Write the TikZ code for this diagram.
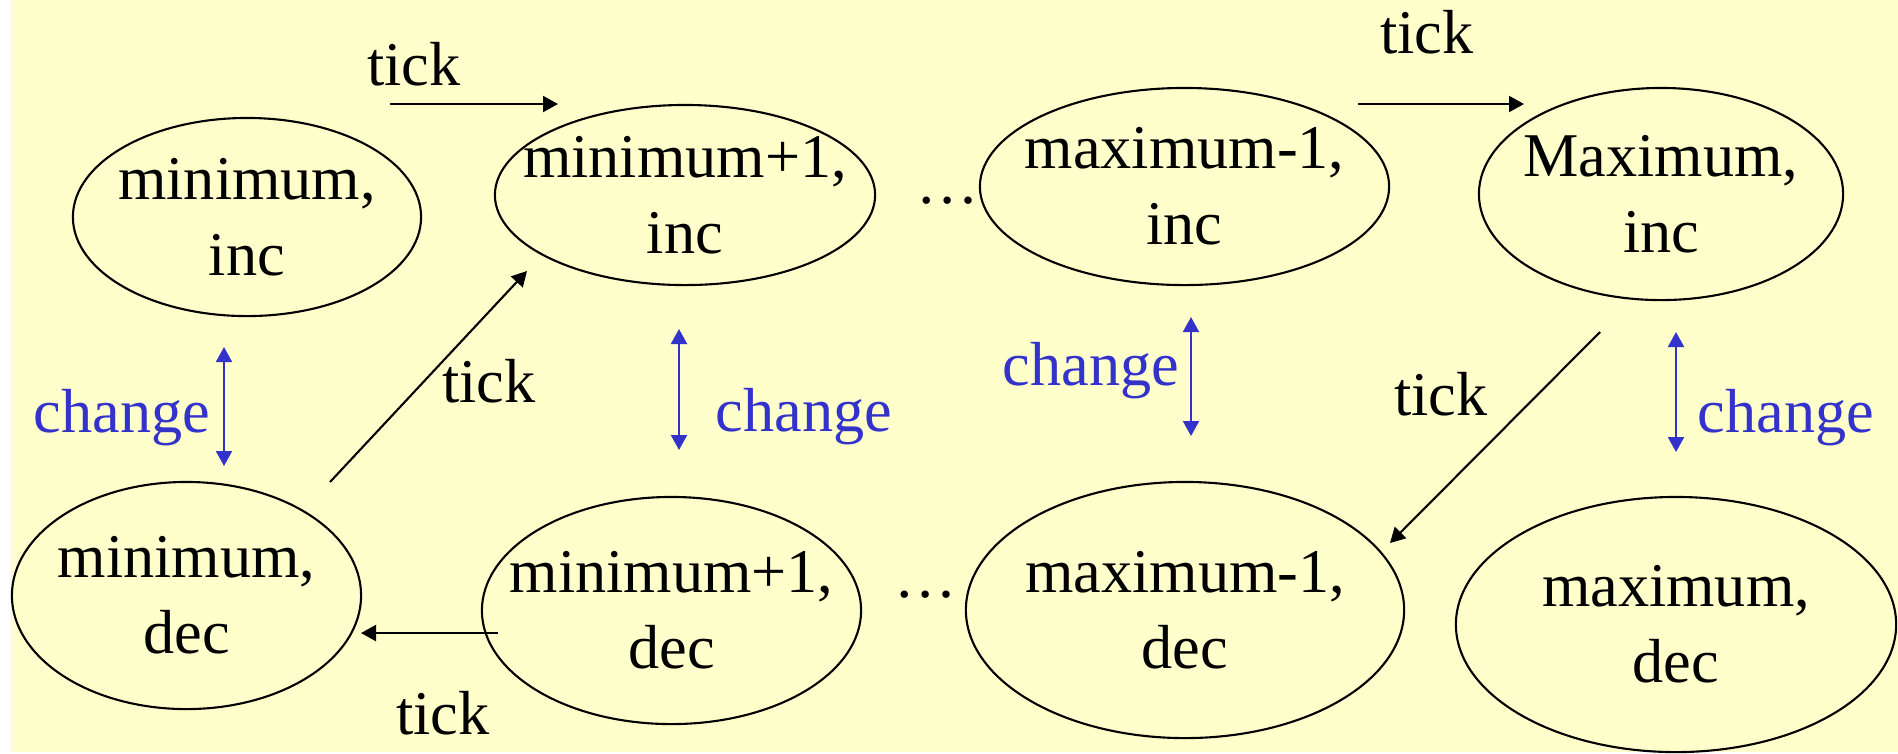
\documentclass[tikz,border=0pt]{standalone}
\usepackage{fontspec}
\setmainfont{Liberation Serif}
\usetikzlibrary{arrows.meta,shapes.geometric}

\definecolor{paper}{RGB}{255,255,204}
\definecolor{chg}{RGB}{51,51,204}

\begin{document}
\begin{tikzpicture}[
    x=0.01cm, y=-0.01cm,
    state/.style={draw=black, line width=0.6pt, ellipse, inner sep=0pt},
    txt/.style={inner sep=0pt, align=center, font=\fontsize{17.7pt}{21.6pt}\selectfont},
    lbl/.style={inner sep=0pt, anchor=base, font=\fontsize{17.7pt}{21.6pt}\selectfont},
    clbl/.style={lbl, text=chg},
    tickarrow/.style={draw=black, line width=0.6pt, -{Triangle[length=1.5mm,width=1.6mm]}},
    chgarrow/.style={draw=chg, line width=0.6pt, {Triangle[length=1.5mm,width=1.6mm]}-{Triangle[length=1.5mm,width=1.6mm]}}
  ]
  % page and background
  \useasboundingbox (0,0) rectangle (1898,753);
  \fill[white] (0,0) rectangle (1898,753);
  \fill[paper] (11,0) rectangle (1898,752);

  % states: counting up
  \node[state, minimum width=3.48cm, minimum height=1.98cm] (mininc)  at (247,217)   {};
  \node[state, minimum width=3.80cm, minimum height=1.80cm] (min1inc) at (685,195)   {};
  \node[state, minimum width=4.09cm, minimum height=1.97cm] (max1inc) at (1184.5,186.5) {};
  \node[state, minimum width=3.64cm, minimum height=2.12cm] (maxinc)  at (1661,194)  {};
  % states: counting down
  \node[state, minimum width=3.49cm, minimum height=2.27cm] (mindec)  at (186.5,595.5) {};
  \node[state, minimum width=3.79cm, minimum height=2.27cm] (min1dec) at (671.5,610.5) {};
  \node[state, minimum width=4.38cm, minimum height=2.56cm] (max1dec) at (1185,610)  {};
  \node[state, minimum width=4.40cm, minimum height=2.55cm] (maxdec)  at (1676,624.5) {};

  % state names
  \node[txt] (mininc-t)  at (mininc)  {minimum,\\inc};
  \node[txt] (min1inc-t) at (min1inc) {minimum+1,\\inc};
  \node[txt] (max1inc-t) at (max1inc) {maximum-1,\\inc};
  \node[txt] (maxinc-t)  at (maxinc)  {Maximum,\\inc};
  \node[txt] (mindec-t)  at (mindec)  {minimum,\\dec};
  \node[txt] (min1dec-t) at (min1dec) {minimum+1,\\dec};
  \node[txt] (max1dec-t) at (max1dec) {maximum-1,\\dec};
  \node[txt] (maxdec-t)  at (maxdec)  {maximum,\\dec};

  % ellipses between the middle states
  \node[lbl] (dotsup)   at (948,203) {\dots};
  \node[lbl] (dotsdown) at (926,597) {\dots};

  % end points of the tick transitions
  \coordinate (t1s) at (390,104);   \coordinate (t1e) at (558,104);
  \coordinate (t2s) at (1358,104);  \coordinate (t2e) at (1524,104);
  \coordinate (t3s) at (330,482);   \coordinate (t3e) at (527,271);
  \coordinate (t4s) at (498,633);   \coordinate (t4e) at (361,633);
  \coordinate (t5s) at (1600,332);  \coordinate (t5e) at (1390,543);

  \draw[tickarrow] (t1s) -- (t1e);
  \draw[tickarrow] (t2s) -- (t2e);
  \draw[tickarrow] (t3s) -- (t3e);
  \draw[tickarrow] (t4s) -- (t4e);
  \draw[tickarrow] (t5s) -- (t5e);

  \node[lbl] (tick1) at (414,85)   {tick};
  \node[lbl] (tick2) at (1427,53)  {tick};
  \node[lbl] (tick3) at (489,402)  {tick};
  \node[lbl] (tick4) at (443,734)  {tick};
  \node[lbl] (tick5) at (1441,415) {tick};

  % end points of the direction changes
  \coordinate (c1a) at (224,347);  \coordinate (c1b) at (224,466);
  \coordinate (c2a) at (679,329);  \coordinate (c2b) at (679,450);
  \coordinate (c3a) at (1191,317); \coordinate (c3b) at (1191,436);
  \coordinate (c4a) at (1676,332); \coordinate (c4b) at (1676,452);

  \draw[chgarrow] (c1a) -- (c1b);
  \draw[chgarrow] (c2a) -- (c2b);
  \draw[chgarrow] (c3a) -- (c3b);
  \draw[chgarrow] (c4a) -- (c4b);

  \node[clbl] (chg1) at (122,432)  {change};
  \node[clbl] (chg2) at (804,431)  {change};
  \node[clbl] (chg3) at (1091,385) {change};
  \node[clbl] (chg4) at (1786,432) {change};
\end{tikzpicture}
\end{document}
